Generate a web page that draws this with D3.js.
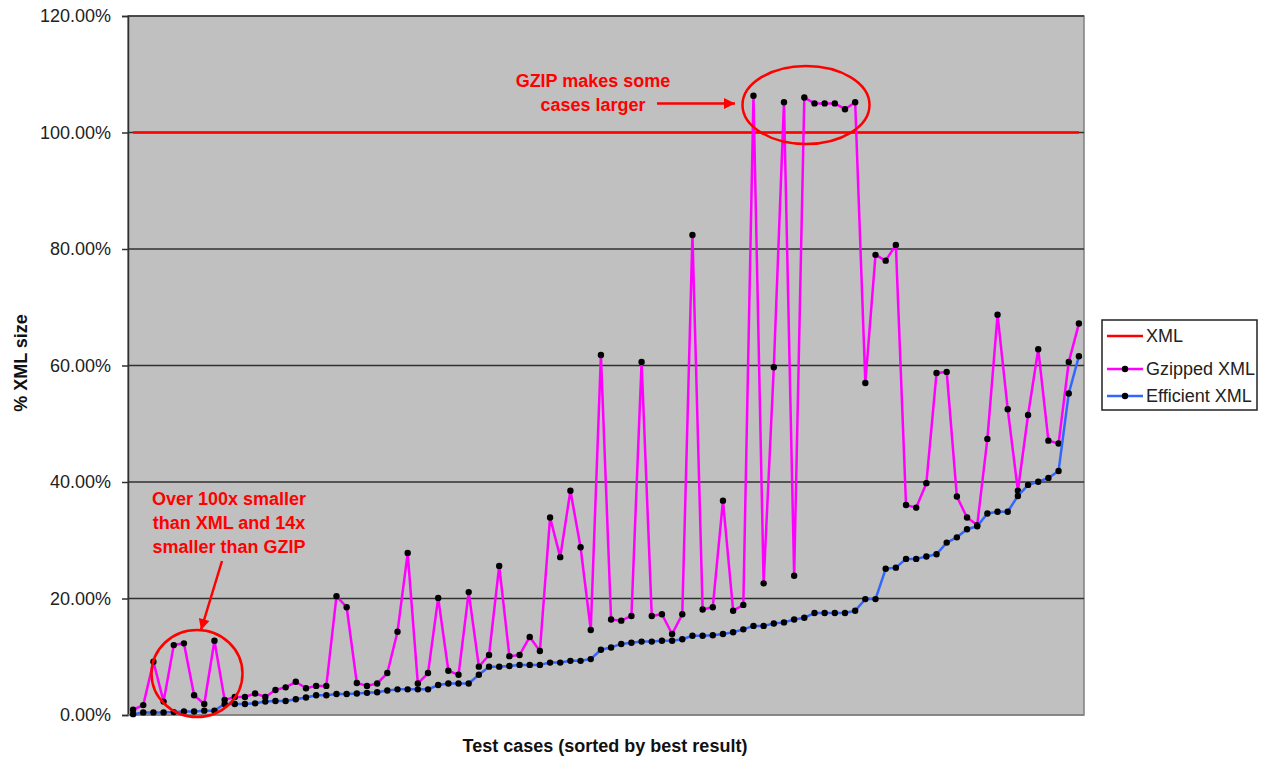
<!DOCTYPE html>
<html>
<head>
<meta charset="utf-8">
<script src="https://cdn.jsdelivr.net/npm/d3@7"></script>
<style>
  html, body { margin: 0; padding: 0; background: #fff; }
  svg { display: block; font-family: Arial, "Liberation Sans", sans-serif; }
</style>
</head>
<body>
<svg id="chart" width="1264" height="761"></svg>
<script>
// ---- Data (percent of XML size), test cases sorted by best result ----
const gzipped = [
  0.9, 1.7, 9.15, 2.3, 12.0, 12.3, 3.4, 1.9, 12.75, 2.6,
  3.1, 3.1, 3.7, 3.1, 4.3, 4.75, 5.7, 4.6, 5.0, 5.0,
  20.4, 18.5, 5.5, 5.0, 5.4, 7.2, 14.3, 27.8, 5.4, 7.2,
  20.1, 7.6, 6.9, 21.1, 8.3, 10.3, 25.6, 10.1, 10.3, 13.4,
  11.0, 33.9, 27.1, 38.5, 28.8, 14.6, 61.8, 16.4, 16.2, 17.0,
  60.6, 17.0, 17.3, 13.9, 17.3, 82.4, 18.1, 18.5, 36.8, 17.9,
  18.9, 106.3, 22.6, 59.7, 105.2, 23.9, 106.0, 105.0, 105.0, 105.0,
  104.0, 105.2, 57.0, 79.0, 78.0, 80.7, 36.05, 35.6, 39.8, 58.7,
  58.9, 37.5, 33.9, 32.6, 47.4, 68.7, 52.5, 38.5, 51.5, 62.8,
  47.1, 46.6, 60.6, 67.2
];
const efficient = [
  0.15, 0.45, 0.45, 0.45, 0.5, 0.6, 0.6, 0.75, 0.75, 1.9,
  1.9, 1.9, 2.0, 2.3, 2.4, 2.4, 2.7, 3.0, 3.4, 3.4,
  3.6, 3.6, 3.7, 3.8, 3.9, 4.2, 4.4, 4.4, 4.4, 4.4,
  5.15, 5.4, 5.4, 5.4, 6.9, 8.3, 8.3, 8.4, 8.6, 8.6,
  8.6, 9.0, 9.0, 9.3, 9.3, 9.6, 11.2, 11.6, 12.2, 12.4,
  12.6, 12.6, 12.75, 12.75, 13.0, 13.6, 13.6, 13.7, 13.9, 14.2,
  14.7, 15.3, 15.3, 15.7, 15.9, 16.4, 16.7, 17.5, 17.5, 17.5,
  17.5, 17.9, 19.9, 19.9, 25.1, 25.3, 26.8, 26.8, 27.2, 27.6,
  29.6, 30.5, 31.9, 32.4, 34.6, 34.9, 34.9, 37.6, 39.5, 40.05,
  40.7, 41.9, 55.2, 61.6
];
const xml = [
  100,100,100,100,100,100,100,100,100,100,
  100,100,100,100,100,100,100,100,100,100,
  100,100,100,100,100,100,100,100,100,100,
  100,100,100,100,100,100,100,100,100,100,
  100,100,100,100,100,100,100,100,100,100,
  100,100,100,100,100,100,100,100,100,100,
  100,100,100,100,100,100,100,100,100,100,
  100,100,100,100,100,100,100,100,100,100,
  100,100,100,100,100,100,100,100,100,100,
  100,100,100,100
];
const yTicks = [0, 20, 40, 60, 80, 100, 120];
const seriesNames = ["XML", "Gzipped XML", "Efficient XML"];
const annotationTop = ["GZIP makes some", "cases larger"];
const annotationBottom = ["Over 100x smaller", "than XML and 14x", "smaller than GZIP"];
const xTitle = "Test cases (sorted by best result)";
const yTitle = "% XML size";

// ---- Layout ----
const plot = { left: 128, right: 1084, top: 16, bottom: 715 };
const svg = d3.select("#chart");

const idx = d3.range(gzipped.length);
const x = d3.scalePoint().domain(idx).range([plot.left, plot.right]).padding(0.5);
const y = d3.scaleLinear().domain([0, 120]).range([plot.bottom, plot.top]);

// plot background
svg.append("rect")
  .attr("x", plot.left).attr("y", plot.top)
  .attr("width", plot.right - plot.left).attr("height", plot.bottom - plot.top)
  .attr("fill", "#c0c0c0").attr("stroke", "#808080").attr("stroke-width", 1.5);

// gridlines
svg.append("g").selectAll("line")
  .data(yTicks.filter(d => d > 0))
  .join("line")
  .attr("x1", plot.left).attr("x2", plot.right)
  .attr("y1", d => y(d)).attr("y2", d => y(d))
  .attr("stroke", "#303030").attr("stroke-width", 1.5);

// y axis
const yAxis = d3.axisLeft(y).tickValues(yTicks).tickSize(6).tickPadding(11)
  .tickFormat(d => d3.format(".2f")(d) + "%");
const gy = svg.append("g").attr("transform", `translate(${plot.left},0)`).call(yAxis);
gy.select(".domain").attr("stroke", "#303030").attr("stroke-width", 1.5);
gy.selectAll(".tick line").attr("stroke", "#303030").attr("stroke-width", 1.5);
gy.selectAll(".tick text")
  .attr("font-size", 18).attr("fill", "#222")
  .attr("font-family", "Arial, 'Liberation Sans', sans-serif");

// bottom axis line
svg.append("line")
  .attr("x1", plot.left).attr("x2", plot.right)
  .attr("y1", plot.bottom).attr("y2", plot.bottom)
  .attr("stroke", "#808080").attr("stroke-width", 1.5);

// series
const colors = { xml: "#ff0000", gz: "#ff00ff", eff: "#3366ff" };
const line = d3.line().x((d, i) => x(i)).y(d => y(d));

svg.append("path").datum(xml).attr("d", line)
  .attr("fill", "none").attr("stroke", colors.xml).attr("stroke-width", 2.5);

function drawSeries(data, color) {
  svg.append("path").datum(data).attr("d", line)
    .attr("fill", "none").attr("stroke", color).attr("stroke-width", 2.5)
    .attr("stroke-linejoin", "round");
  svg.append("g").selectAll("circle").data(data).join("circle")
    .attr("cx", (d, i) => x(i)).attr("cy", d => y(d)).attr("r", 3.2)
    .attr("fill", "#000");
}
drawSeries(gzipped, colors.gz);
drawSeries(efficient, colors.eff);

// annotations
const red = "#ff0000";
svg.append("defs").append("marker")
  .attr("id", "arrow").attr("viewBox", "0 0 10 10")
  .attr("refX", 10).attr("refY", 5)
  .attr("markerWidth", 5.5).attr("markerHeight", 4.4)
  .attr("markerUnits", "strokeWidth")
  .attr("orient", "auto")
  .append("path").attr("d", "M0,0 L10,5 L0,10 Z").attr("fill", red);

svg.append("ellipse")
  .attr("cx", 806).attr("cy", 105).attr("rx", 63.5).attr("ry", 39)
  .attr("fill", "none").attr("stroke", red).attr("stroke-width", 2.5);
svg.append("ellipse")
  .attr("cx", 197).attr("cy", 673.5).attr("rx", 45.5).attr("ry", 43.5)
  .attr("fill", "none").attr("stroke", red).attr("stroke-width", 2.5);

const t1 = svg.append("text").attr("text-anchor", "middle")
  .attr("font-size", 18).attr("font-weight", "bold").attr("fill", red);
annotationTop.forEach((s, i) =>
  t1.append("tspan").attr("x", 593).attr("y", 87 + i * 24).text(s));

svg.append("line")
  .attr("x1", 657).attr("y1", 103.5).attr("x2", 735).attr("y2", 103.5)
  .attr("stroke", red).attr("stroke-width", 2.5).attr("marker-end", "url(#arrow)");

const t2 = svg.append("text").attr("text-anchor", "middle")
  .attr("font-size", 18).attr("font-weight", "bold").attr("fill", red);
annotationBottom.forEach((s, i) =>
  t2.append("tspan").attr("x", 229).attr("y", 505 + i * 24).text(s));

svg.append("line")
  .attr("x1", 222).attr("y1", 561).attr("x2", 201).attr("y2", 630)
  .attr("stroke", red).attr("stroke-width", 2.5).attr("marker-end", "url(#arrow)");

// axis titles
svg.append("text").attr("x", 605).attr("y", 752).attr("text-anchor", "middle")
  .attr("font-size", 18).attr("font-weight", "bold").attr("fill", "#111").text(xTitle);
svg.append("text").attr("transform", "translate(27,363) rotate(-90)")
  .attr("text-anchor", "middle")
  .attr("font-size", 18).attr("font-weight", "bold").attr("fill", "#111").text(yTitle);

// legend
const lg = svg.append("g");
lg.append("rect").attr("x", 1102).attr("y", 320).attr("width", 155).attr("height", 90)
  .attr("fill", "#fff").attr("stroke", "#222").attr("stroke-width", 1.5);
const legendRows = [
  { name: seriesNames[0], color: colors.xml, marker: false, y: 336 },
  { name: seriesNames[1], color: colors.gz, marker: true, y: 369 },
  { name: seriesNames[2], color: colors.eff, marker: true, y: 396 }
];
legendRows.forEach(r => {
  lg.append("line").attr("x1", 1107).attr("x2", 1143).attr("y1", r.y).attr("y2", r.y)
    .attr("stroke", r.color).attr("stroke-width", 2.5);
  if (r.marker) lg.append("circle").attr("cx", 1125).attr("cy", r.y).attr("r", 3.2).attr("fill", "#000");
  lg.append("text").attr("x", 1146).attr("y", r.y).attr("dy", "0.35em")
    .attr("font-size", 18).attr("fill", "#222").text(r.name);
});
</script>
</body>
</html>
